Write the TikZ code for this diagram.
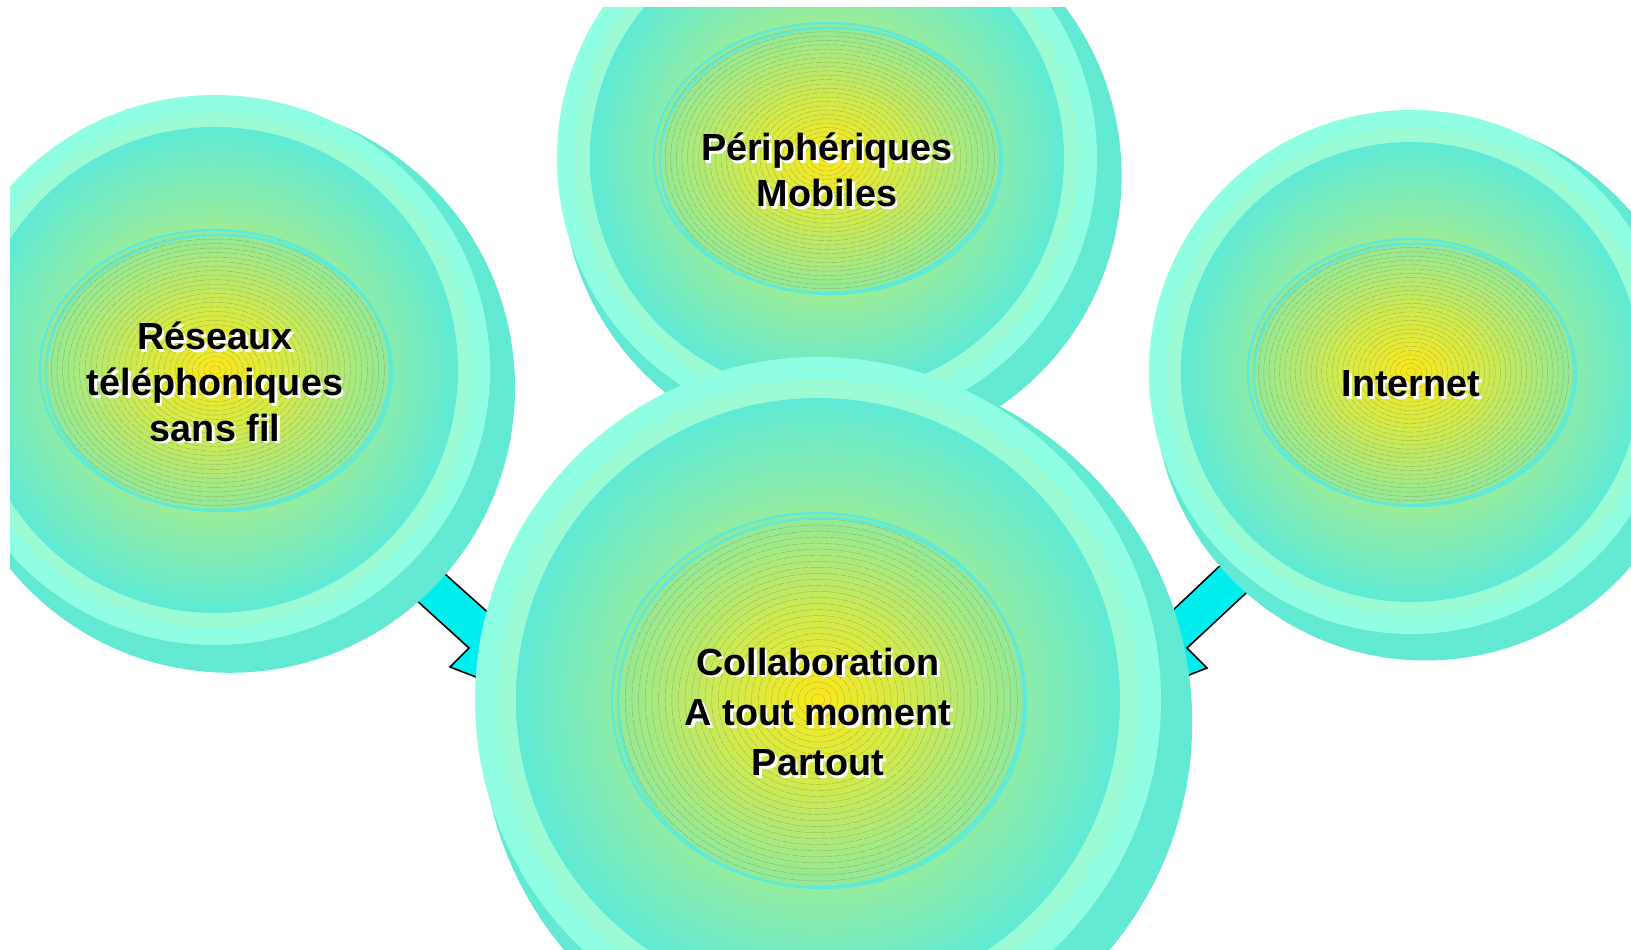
\documentclass[tikz,border=0pt]{standalone}
\usepackage{fontspec}
\setmainfont{Liberation Sans}
\usepackage{tikz}

\definecolor{rimlight}{HTML}{8FFEE2}
\definecolor{rimband}{HTML}{9BFBD5}
\definecolor{rimshadow}{HTML}{62E9D3}
\definecolor{discedge}{HTML}{5EEAD6}
\definecolor{discmid}{HTML}{9DEC94}
\definecolor{disccore}{HTML}{B8EE7E}
\definecolor{eggedge}{HTML}{90E89A}
\definecolor{eggmid}{HTML}{D2EA4C}
\definecolor{eggcore}{HTML}{FAE81A}
\definecolor{eggrim}{HTML}{5CE9DA}
\definecolor{boltfill}{HTML}{00EEEE}

\pgfdeclareradialshading{discshade}{\pgfpointorigin}{color(0bp)=(disccore); color(14bp)=(discmid); color(25bp)=(discedge); color(50bp)=(discedge)}
\pgfdeclareradialshading{eggshade}{\pgfpointorigin}{color(0bp)=(eggcore); color(11bp)=(eggmid); color(25bp)=(eggedge); color(50bp)=(eggedge)}

\tikzset{
  bubtext/.style={font=\fontsize{21.5}{#1}\selectfont\bfseries, align=center, inner sep=0pt},
  ringline/.style={draw=black!70, line width=0.25pt, opacity=0.32, dash pattern=on 4pt off 0.8pt},
  eggline/.style={draw=eggrim, line width=1.3pt},
  bolt/.style={fill=boltfill, draw=black, line width=0.9pt, line join=miter},
}

% name, x, y, R, r, rx, ry, baselineskip, text
\newcommand{\bubble}[9]{
  \fill[rimshadow] ({#2+0.055*#4},{#3+0.065*#4}) circle ({1.036*#4});
  \fill[rimlight] (#2,#3) circle (#4);
  \fill[rimband] (#2,#3) circle ({#5+0.45*(#4-#5)});
  \shade[shading=discshade] (#2,#3) circle (#5);
  \shade[shading=eggshade] (#2,#3) ellipse ({#6} and {#7});
  \foreach \k in {1,...,30}
    \draw[ringline] (#2,#3) ellipse ({#6*\k/31} and {#7*\k/31});
  \draw[eggline] ({#2+4},{#3+3}) ellipse ({#6-2} and {#7-2});
  \draw[eggline] (#2,#3) ellipse ({#6} and {#7});
  \node[bubtext=#8, text=white] (#1-sh) at ({#2+2.5},{#3+14.5}) {#9};
  \node[bubtext=#8, text=black] (#1) at ({#2},{#3+12}) {#9};
}

\begin{document}
\begin{tikzpicture}[x=0.02cm, y=-0.02cm]
  \fill[white] (0,0) rectangle (1631,949);
  \useasboundingbox (0,0) rectangle (1631,949);
  \begin{scope}
    \clip (10,8) rectangle (1631,949);
    % connectors
    \draw[bolt] (398,532) -- (540,659) -- (510,695) -- (476,677) -- (450,667)
      -- (469,648) -- (371,559) -- cycle;
    \draw[bolt] (1263,525) -- (1133,648) -- (1150,690) -- (1189,675) -- (1207,668)
      -- (1187,648) -- (1289,553) -- cycle;
    % bubbles
    \bubble{reseaux}{215}{370}{275}{243}{175}{140}{26}{Réseaux\\téléphoniques\\sans fil}
    \bubble{internet}{1411}{372}{262}{230}{163}{133}{26}{Internet}
    \bubble{mobiles}{827}{158}{270}{237}{173}{135}{26}{Périphériques\\Mobiles}
    \bubble{collab}{818}{700}{343}{302}{206}{187}{28.5}{Collaboration\\A tout moment\\Partout}
  \end{scope}
\end{tikzpicture}
\end{document}
